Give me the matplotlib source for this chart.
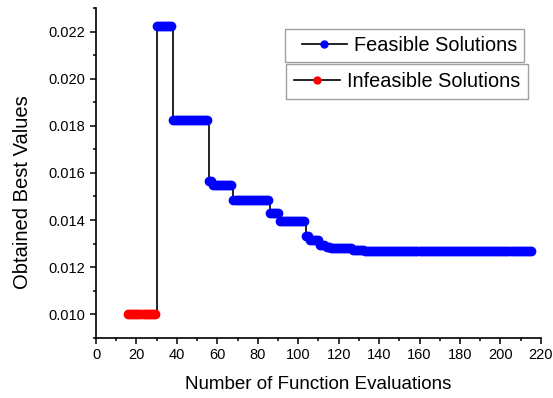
import numpy as np
import matplotlib
matplotlib.use("Agg")
import matplotlib.pyplot as plt
from matplotlib.lines import Line2D
from matplotlib.legend_handler import HandlerLine2D
from matplotlib.ticker import MultipleLocator, FormatStrFormatter

plt.rcParams['font.family'] = ['Liberation Sans', 'DejaVu Sans']

# Infeasible phase: evaluations 16..29
infeasible_start = 16
infeasible_values = [0.0100]
infeasible_counts = [14]

# Feasible phase: run-length levels of the best value, starting at evaluation 30
feasible_start = 30
feasible_values = [0.02222, 0.01826, 0.01566, 0.01549, 0.01484, 0.01429, 0.01396,
                   0.01332, 0.01316, 0.01295, 0.01285, 0.01280, 0.01272, 0.01267]
feasible_counts = [8, 18, 2, 10, 18, 5, 13, 2, 5, 3, 2, 11, 6, 83]

y_inf = np.repeat(infeasible_values, infeasible_counts)
x_inf = np.arange(infeasible_start, infeasible_start + len(y_inf))
y_fea = np.repeat(feasible_values, feasible_counts)
x_fea = np.arange(feasible_start, feasible_start + len(y_fea))

x_all = np.concatenate([x_inf, x_fea])
y_all = np.concatenate([y_inf, y_fea])

fig = plt.figure(figsize=(5.53, 3.98), dpi=100)
ax = fig.add_axes([0.1736, 0.151, 0.8044, 0.829])

ax.plot(x_all, y_all, color='black', lw=1.2, drawstyle='steps-post', zorder=2)
ax.plot(x_fea, y_fea, 'o', color='#0000ff', ms=6, mec='#0000ff', zorder=3)
ax.plot(x_inf, y_inf, 'o', color='#ff0000', ms=6, mec='#ff0000', zorder=3)

ax.set_xlim(0, 220)
ax.set_ylim(0.009, 0.023)
ax.xaxis.set_major_locator(MultipleLocator(20))
ax.xaxis.set_minor_locator(MultipleLocator(10))
ax.yaxis.set_minor_locator(MultipleLocator(0.001))
ax.set_yticks(np.arange(0.010, 0.0221, 0.002))
ax.yaxis.set_major_formatter(FormatStrFormatter('%.3f'))

ax.spines['top'].set_visible(False)
ax.spines['right'].set_visible(False)
for s in ['left', 'bottom']:
    ax.spines[s].set_linewidth(1.2)
ax.tick_params(which='major', direction='out', length=4, width=1.1, labelsize=10.5, colors='black')
ax.tick_params(which='minor', direction='out', length=2.5, width=1.1)

ax.set_xlabel("Number of Function Evaluations", fontsize=13.5, labelpad=10)
ax.set_ylabel("Obtained Best Values", fontsize=14.5, va='center')
ax.yaxis.set_label_coords(-0.166, 0.442)

h1 = Line2D([], [], color='black', lw=1.2, marker='o', ms=5, mfc='#0000ff', mec='#0000ff')
h2 = Line2D([], [], color='black', lw=1.2, marker='o', ms=5, mfc='#ff0000', mec='#ff0000')
leg1 = ax.legend([h1], ["Feasible Solutions"], loc='upper left', bbox_to_anchor=(0.425, 0.935),
                 fontsize=14.3, frameon=True, fancybox=False, edgecolor='#888888',
                 handlelength=2.8, borderpad=0.33, handletextpad=0.35, borderaxespad=0,
                 handler_map={h1: HandlerLine2D(xpad=0.5)})
leg1.get_frame().set_linewidth(1.0)
ax.add_artist(leg1)
leg2 = ax.legend([h2], ["Infeasible Solutions"], loc='upper left', bbox_to_anchor=(0.427, 0.83),
                 fontsize=14.3, frameon=True, fancybox=False, edgecolor='#888888',
                 handlelength=2.3, borderpad=0.4, handletextpad=0.35, borderaxespad=0)
leg2.get_frame().set_linewidth(1.0)

fig.savefig("out.png", dpi=100)
